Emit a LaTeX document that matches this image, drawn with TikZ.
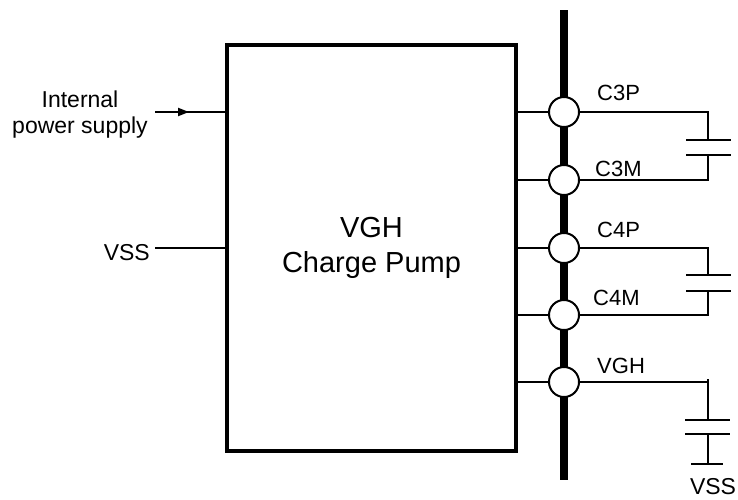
\documentclass[tikz,border=0pt]{standalone}
\usepackage{fontspec}
\setmainfont{Liberation Sans}
\usetikzlibrary{arrows.meta}
\begin{document}
\begin{tikzpicture}[x=1pt,y=-1pt,
  wire/.style={line width=2pt},
  pinc/.style={circle,draw,fill=white,line width=2pt,minimum size=30pt,inner sep=0pt},
  lbl/.style={font=\fontsize{22}{26}\selectfont,inner sep=0pt},
  llbl/.style={font=\fontsize{23}{26}\selectfont,inner sep=0pt},
  plate/.style={line width=2pt}]
\useasboundingbox (0,0) rectangle (738,499);
% main block
\node[draw,line width=4pt,minimum width=289pt,minimum height=406pt,inner sep=0pt,
      align=center,font=\fontsize{29}{35}\selectfont] (pump) at (371.5,248) {VGH\\Charge Pump};
% bus
\coordinate (bustop) at (564,10);
\coordinate (busbot) at (564,480);
\draw[line width=8pt] (bustop) -- (busbot);
% pins
\node[pinc] (c3p) at (564,112) {};
\node[pinc] (c3m) at (564,180) {};
\node[pinc] (c4p) at (564,248) {};
\node[pinc] (c4m) at (564,315) {};
\node[pinc] (vgh) at (564,382) {};
\foreach \p in {c3p,c3m,c4p,c4m,vgh} \draw[wire] (pump.east |- \p) -- (\p.west);
% pin labels
\node[lbl,anchor=base west] (l3p) at (597,100) {C3P};
\node[lbl,anchor=base west] (l3m) at (595,176) {C3M};
\node[lbl,anchor=base west] (l4p) at (597,237) {C4P};
\node[lbl,anchor=base west] (l4m) at (593,305) {C4M};
\node[lbl,anchor=base west] (lvgh) at (597,373) {VGH};
% C3 capacitor
\coordinate (k3a) at (708,140);
\coordinate (k3b) at (708,155);
\draw[wire] (c3p.east) -- (c3p -| k3a) -- (k3a);
\draw[wire] (c3m.east) -- (c3m -| k3b) -- (k3b);
\draw[plate] ([xshift=-22pt]k3a) -- ([xshift=23pt]k3a);
\draw[plate] ([xshift=-22pt]k3b) -- ([xshift=23pt]k3b);
% C4 capacitor
\coordinate (k4a) at (708,275);
\coordinate (k4b) at (708,291);
\draw[wire] (c4p.east) -- (c4p -| k4a) -- (k4a);
\draw[wire] (c4m.east) -- (c4m -| k4b) -- (k4b);
\draw[plate] ([xshift=-22pt]k4a) -- ([xshift=23pt]k4a);
\draw[plate] ([xshift=-22pt]k4b) -- ([xshift=23pt]k4b);
% VGH capacitor to VSS
\coordinate (kva) at (708,420);
\coordinate (kvb) at (708,434);
\coordinate (gnd) at (708,464);
\coordinate (vtick) at (708,379);
\draw[wire] (vgh.east) -- (vgh -| kva);
\draw[wire] (vtick) -- (kva);
\draw[plate] ([xshift=-23pt]kva) -- ([xshift=22pt]kva);
\draw[plate] ([xshift=-23pt]kvb) -- ([xshift=22pt]kvb);
\draw[wire] (kvb) -- (gnd);
\draw[plate] ([xshift=-17pt]gnd) -- ([xshift=15pt]gnd);
\node[llbl,anchor=base] (vssr) at (713,494) {VSS};
% left inputs
\node[llbl,align=center] (ips) at (80,115) {Internal\\power supply};
\coordinate (ipsin) at (155,112);
\coordinate (ipsmid) at (189,112);
\draw[wire] (ipsin) -- (pump.west |- ipsin);
\draw[wire,-{Triangle[length=11pt,width=8pt]}] (ipsin) -- (ipsmid);
\node[llbl,anchor=base east] (vssl) at (150,260) {VSS};
\draw[wire] ([xshift=5pt]vssl.east |- 0,248) -- (pump.west |- 0,248);
\end{tikzpicture}
\end{document}
